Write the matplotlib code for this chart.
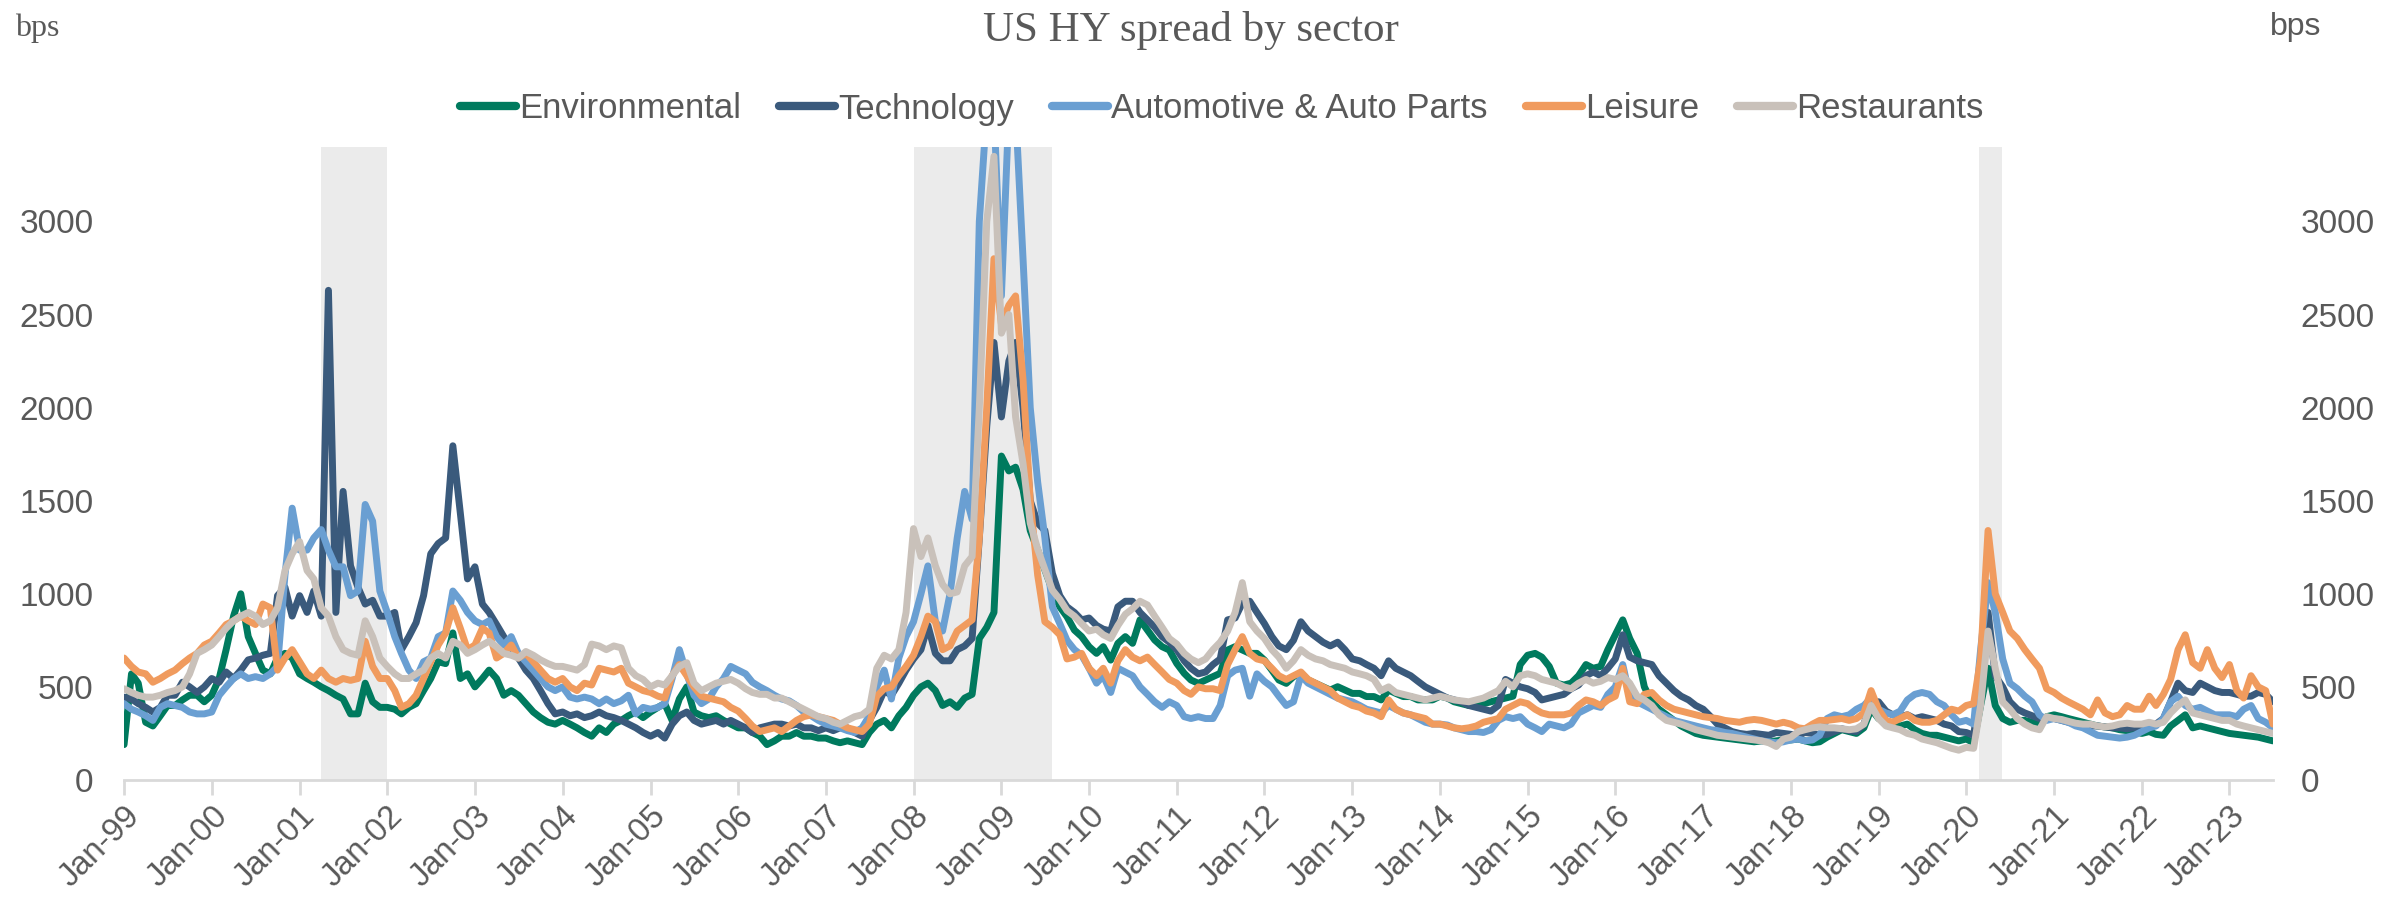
# US HY spread by sector - monthly readings of the reference chart
import pandas as pd
import matplotlib
matplotlib.use("Agg")
import matplotlib.pyplot as plt
import matplotlib.dates as mdates

# monthly values, Jan-1999 .. Jul-2023 (bps)
environmental = [
    190, 570, 520, 310, 290, 345, 400, 400, 430, 455, 455, 420,
    455, 545, 700, 880, 1000, 770, 680, 590, 570, 655, 680, 655,
    570, 545, 525, 500, 480, 455, 435, 355, 355, 520, 420, 390,
    390, 380, 355, 390, 410, 480, 545, 635, 625, 790, 545, 570,
    500, 545, 590, 545, 455, 480, 455, 410, 365, 335, 310, 300,
    320, 300, 280, 255, 235, 280, 255, 300, 320, 345, 365, 335,
    365, 390, 410, 320, 435, 500, 365, 345, 335, 345, 320, 300,
    280, 280, 255, 235, 190, 210, 235, 235, 255, 235, 235, 225,
    225, 210, 200, 210, 200, 190, 255, 300, 320, 280, 345, 390,
    455, 500, 520, 480, 400, 420, 390, 440, 460, 760, 820, 900,
    1740, 1660, 1680, 1560, 1340, 1235, 1128, 1020, 930, 877, 805, 770,
    716, 680, 716, 644, 734, 770, 734, 860, 805, 752, 716, 698,
    626, 573, 537, 519, 537, 555, 573, 698, 716, 698, 680, 680,
    644, 590, 537, 519, 555, 573, 537, 519, 501, 483, 501, 483,
    465, 465, 448, 448, 430, 483, 465, 448, 448, 430, 430, 430,
    450, 440, 420, 410, 400, 400, 410, 420, 430, 440, 450, 620,
    670, 680, 660, 610, 520, 510, 520, 560, 620, 600, 610, 700,
    780, 860, 760, 680, 500, 420, 380, 350, 320, 290, 270, 250,
    240, 235, 230, 225, 220, 215, 210, 205, 210, 205, 210, 215,
    215, 220, 210, 200, 205, 230, 250, 270, 260, 250, 280, 380,
    330, 310, 300, 290, 300, 270, 250, 240, 240, 230, 220, 210,
    220, 200, 400, 600, 400, 330, 310, 320, 320, 310, 300, 340,
    350, 340, 330, 320, 310, 300, 290, 285, 280, 270, 265, 260,
    250, 260, 245, 240, 290, 320, 350, 280, 290, 280, 270, 260,
    250, 245, 240, 235, 230, 220, 210,
]

technology = [
    445, 435, 410, 390, 365, 390, 455, 455, 525, 500, 470, 500,
    545, 525, 580, 545, 590, 645, 655, 670, 680, 990, 1035, 880,
    990, 900, 1015, 880, 2630, 900, 1550, 1150, 1035, 945, 965, 880,
    880, 900, 700, 770, 845, 990, 1215, 1270, 1300, 1795, 1435, 1080,
    1145, 945, 900, 835, 770, 700, 655, 590, 545, 480, 410, 355,
    365, 345, 355, 335, 345, 365, 345, 335, 320, 300, 280, 255,
    235, 255, 225, 300, 345, 365, 320, 300, 310, 320, 300, 320,
    300, 280, 255, 280, 290, 300, 300, 290, 300, 280, 280, 265,
    280, 265, 280, 280, 255, 235, 320, 390, 480, 455, 520, 590,
    650, 700, 830, 680, 640, 640, 700, 720, 760, 1300, 1900, 2350,
    1950, 2250, 2350, 2000, 1500, 1380, 1340, 1110, 990, 930, 900, 860,
    870, 830, 810, 800, 930, 960, 960, 900, 860, 820, 770, 740,
    700, 640, 600, 570, 580, 620, 650, 860, 870, 950, 960, 900,
    840, 770, 720, 700, 750, 850, 800, 770, 740, 720, 740, 700,
    650, 640, 620, 600, 560, 640, 600, 580, 560, 530, 500, 480,
    460, 440, 430, 420, 400, 390, 380, 370, 400, 540, 520, 500,
    490, 470, 430, 440, 450, 460, 490, 510, 560, 580, 560, 600,
    650, 780, 660, 640, 630, 620, 560, 520, 480, 450, 430, 400,
    380, 340, 300, 280, 260, 250, 245, 250, 245, 240, 255, 250,
    245, 240, 255, 250, 240, 245, 260, 275, 265, 260, 300, 420,
    420, 370, 350, 340, 350, 330, 340, 330, 320, 300, 290, 260,
    255, 240, 500, 900, 560, 500, 420, 380, 360, 345, 330, 330,
    330, 320, 310, 300, 295, 290, 290, 285, 280, 280, 275, 280,
    290, 300, 300, 330, 420, 520, 480, 470, 520, 500, 480, 470,
    470, 460, 450, 450, 470, 460, 420,
]

automotive = [
    410, 380, 365, 345, 320, 390, 410, 400, 390, 365, 355, 355,
    365, 455, 500, 545, 570, 545, 555, 545, 570, 610, 1100, 1460,
    1235, 1235, 1300, 1345, 1235, 1145, 1145, 990, 1015, 1480, 1390, 1015,
    900, 770, 680, 590, 545, 635, 655, 770, 790, 1015, 965, 900,
    855, 835, 855, 770, 725, 770, 680, 635, 590, 545, 500, 480,
    500, 445, 435, 445, 435, 410, 435, 410, 425, 455, 355, 390,
    380, 390, 410, 545, 700, 570, 455, 410, 435, 500, 545, 610,
    590, 570, 525, 500, 480, 455, 435, 425, 400, 365, 345, 320,
    300, 290, 280, 265, 255, 280, 345, 500, 590, 435, 655, 770,
    850, 1000, 1150, 850, 800, 1000, 1300, 1550, 1400, 3000, 3600, 3600,
    2600, 3600, 3600, 2800, 2000, 1600, 1300, 930, 840, 750, 700, 670,
    600, 520, 560, 470, 600, 580, 560, 500, 460, 420, 390, 420,
    400, 340, 330, 340, 330, 330, 400, 560, 590, 600, 450, 570,
    530, 500, 450, 400, 420, 560, 520, 500, 480, 460, 440, 430,
    420, 400, 380, 370, 360, 400, 380, 360, 350, 330, 310, 300,
    300, 295, 280, 270, 260, 260, 255, 270, 320, 340, 330, 340,
    300, 280, 260, 300, 290, 280, 300, 360, 380, 400, 390, 460,
    500, 620, 450, 420, 400, 380, 360, 340, 320, 310, 300, 290,
    280, 270, 265, 255, 250, 240, 230, 220, 210, 205, 200, 205,
    215, 220, 210, 215, 240, 330, 350, 340, 350, 380, 400, 440,
    380, 360, 350, 370, 430, 460, 470, 460, 420, 400, 350, 310,
    320, 300, 700, 1060, 900, 650, 520, 490, 450, 420, 350, 320,
    330, 320, 310, 290, 280, 260, 240, 235, 230, 225, 230, 240,
    260, 280, 290, 330, 420, 450, 400, 380, 390, 370, 350, 350,
    350, 340, 380, 400, 330, 310, 280,
]

leisure = [
    655, 610, 580, 570, 525, 545, 570, 590, 625, 655, 680, 725,
    745, 790, 835, 855, 880, 855, 835, 945, 925, 590, 655, 700,
    635, 570, 545, 590, 545, 525, 545, 535, 545, 745, 610, 545,
    545, 480, 390, 410, 455, 545, 635, 725, 790, 925, 815, 700,
    725, 815, 790, 655, 680, 725, 655, 680, 635, 590, 545, 525,
    545, 500, 480, 520, 510, 600, 590, 580, 600, 520, 500, 480,
    470, 450, 440, 560, 620, 560, 500, 450, 440, 430, 420, 390,
    370, 330, 290, 260, 270, 280, 260, 290, 320, 340, 350, 340,
    330, 320, 300, 280, 270, 260, 300, 450, 490, 500, 560, 610,
    670, 770, 880, 850, 700, 720, 800, 830, 860, 1300, 2000, 2800,
    2450, 2550, 2600, 2150, 1500, 1100, 850, 820, 780, 650, 660, 680,
    600, 560, 600, 520, 640, 700, 660, 640, 660, 620, 580, 540,
    520, 480, 460, 500, 490, 490, 480, 620, 700, 770, 680, 650,
    640, 600, 560, 540, 560, 580, 540, 520, 500, 480, 440, 420,
    400, 390, 370, 360, 340, 430, 380, 360, 350, 340, 330, 300,
    300, 290, 280, 275, 280, 290, 310, 320, 330, 380, 400, 420,
    410, 380, 360, 350, 350, 350, 360, 400, 430, 420, 400, 430,
    450, 600, 420, 410, 460, 470, 430, 400, 380, 370, 360, 350,
    340, 335, 330, 320, 315, 310, 320, 325, 320, 310, 300, 310,
    300, 280, 275, 300, 320, 320, 325, 330, 320, 330, 360, 480,
    380, 320, 310, 330, 350, 320, 310, 310, 320, 350, 380, 370,
    400, 410, 650, 1340, 1000, 900, 800, 760, 700, 650, 600, 490,
    470, 440, 420, 400, 380, 350, 430, 360, 340, 350, 400, 380,
    380, 450, 400, 460, 540, 700, 780, 630, 600, 700, 600, 550,
    620, 480, 440, 560, 500, 480, 300,
]

restaurants = [
    490, 470, 455, 445, 445, 455, 470, 480, 500, 570, 680, 700,
    725, 770, 815, 855, 880, 900, 880, 835, 855, 925, 1125, 1215,
    1280, 1125, 1080, 925, 880, 770, 700, 680, 670, 855, 770, 655,
    610, 570, 545, 545, 570, 590, 655, 680, 655, 745, 725, 680,
    700, 725, 745, 715, 680, 670, 655, 690, 670, 645, 625, 610,
    610, 600, 590, 620, 730, 720, 700, 720, 710, 600, 560, 540,
    500, 520, 510, 560, 610, 630, 520, 480, 500, 520, 530, 540,
    520, 490, 470, 460, 460, 440, 440, 420, 400, 380, 360, 340,
    330, 310, 300, 320, 340, 350, 380, 600, 670, 650, 700, 900,
    1350, 1200, 1300, 1150, 1050, 1000, 1010, 1150, 1200, 2000, 3000, 3350,
    2400, 2500, 1950, 1700, 1380, 1240, 1130, 1020, 970, 910, 880, 840,
    800, 810, 780, 760, 830, 890, 920, 960, 940, 880, 820, 760,
    730, 680, 650, 630, 650, 700, 740, 800, 900, 1060, 850, 800,
    760, 700, 660, 600, 640, 700, 670, 650, 640, 620, 610, 600,
    580, 570, 560, 540, 480, 500, 470, 460, 450, 440, 430, 440,
    450, 440, 430, 425, 420, 430, 440, 460, 480, 530, 500, 560,
    570, 560, 540, 530, 520, 500, 490, 520, 540, 520, 530, 550,
    540, 560, 520, 450, 430, 400, 350, 320, 310, 300, 285, 270,
    260, 250, 240, 235, 230, 225, 220, 215, 210, 200, 180, 220,
    230, 260, 270, 280, 285, 280, 280, 275, 270, 275, 300, 400,
    330, 290, 280, 270, 250, 240, 220, 210, 200, 185, 170, 160,
    175, 170, 400, 800, 600, 420, 380, 330, 300, 280, 270, 340,
    330, 325, 315, 305, 300, 300, 290, 285, 290, 300, 305, 300,
    300, 310, 300, 310, 360, 400, 430, 360, 350, 340, 330, 320,
    320, 300, 290, 280, 270, 260, 250,
]

series_names = ["Environmental", "Technology", "Automotive & Auto Parts",
                "Leisure", "Restaurants"]
series_colors = ["#007A5E", "#3A5A7C", "#6A9FD2", "#F09B5E", "#C9C1BA"]

# recession bars (as shaded on the chart)
recessions = [("2001-04-01", "2002-01-01"),
              ("2008-01-01", "2009-07-31"),
              ("2020-02-25", "2020-05-31")]

dates = pd.date_range("1999-01-01", periods=len(environmental), freq="MS")
data = [environmental, technology, automotive, leisure, restaurants]

grey = "#595959"
sans = ["Liberation Sans", "DejaVu Sans"]
serif = ["Liberation Serif", "DejaVu Serif"]
plt.rcParams["font.family"] = sans

fig = plt.figure(figsize=(23.81, 8.99), dpi=100)
ax = fig.add_axes([0.0521, 0.1324, 0.9025, 0.7041])

for start, end in recessions:
    ax.axvspan(pd.Timestamp(start), pd.Timestamp(end), ymin=0, ymax=1,
               color="#EBEBEB", lw=0, zorder=0)

for vals, name, col in zip(data, series_names, series_colors):
    ax.plot(dates, vals, color=col, lw=5.0, label=name,
            solid_joinstyle="round", solid_capstyle="round", zorder=2)

ax.set_xlim(pd.Timestamp("1999-01-01"), pd.Timestamp("2023-07-01"))
ax.set_ylim(0, 3400)
ax.set_yticks(range(0, 3001, 500))

ax.xaxis.set_major_locator(mdates.YearLocator(1, month=1, day=1))
ax.xaxis.set_major_formatter(mdates.DateFormatter("%b-%y"))
for lab in ax.get_xticklabels():
    lab.set_rotation(45)
    lab.set_ha("right")
    lab.set_rotation_mode("anchor")

for s in ["top", "left", "right"]:
    ax.spines[s].set_visible(False)
ax.spines["bottom"].set_color("#D9D9D9")
ax.spines["bottom"].set_linewidth(2)
ax.tick_params(axis="x", colors="#D9D9D9", length=11, width=2,
               labelcolor=grey, labelsize=23.5, pad=4)
ax.tick_params(axis="y", length=0, labelcolor=grey, labelsize=24, pad=22)

# right-hand copy of the value axis
ax2 = ax.twinx()
ax2.set_ylim(ax.get_ylim())
ax2.set_yticks(range(0, 3001, 500))
for s in ax2.spines.values():
    s.set_visible(False)
ax2.tick_params(axis="y", length=0, labelcolor=grey, labelsize=24, pad=20)

fig.text(0.5, 1 - 30 / 899, "US HY spread by sector", ha="center",
         va="center", fontsize=31, color=grey, family=serif)
fig.text(15 / 2381, 1 - 28 / 899, "bps", ha="left", va="center",
         fontsize=23, color=grey, family=serif)
fig.text(2270 / 2381, 1 - 27 / 899, "bps", ha="left", va="center",
         fontsize=23, color=grey)

leg = ax.legend(loc="center", bbox_to_anchor=(1222 / 2381, 1 - 109 / 899),
                bbox_transform=fig.transFigure, ncol=5, frameon=False,
                fontsize=25, handlelength=1.6, handletextpad=0.1,
                columnspacing=1.1)
for line in leg.get_lines():
    line.set_linewidth(6)
for txt in leg.get_texts():
    txt.set_color(grey)

fig.savefig("out.png", dpi=100)
